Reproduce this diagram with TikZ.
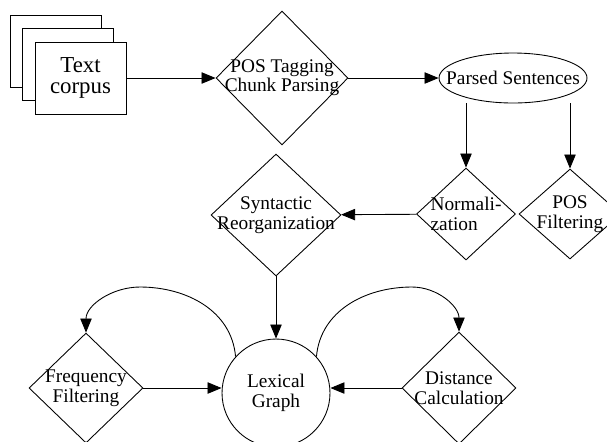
\documentclass[tikz,border=0pt]{standalone}
\usepackage{fontspec}
\setmainfont{Liberation Serif}
\usetikzlibrary{arrows.meta,shapes.geometric,shadows}

\begin{document}
\begin{tikzpicture}[x=0.02cm,y=-0.02cm,line width=0.5pt,
  every node/.style={font=\fontsize{11}{11.5}\selectfont},
  dia/.style={diamond,draw,inner sep=0pt},
  ins/.style={label={[align=center]center:#1}},
  ar/.style={-{Triangle[length=8pt,width=6.5pt]},line width=0.5pt}]
\useasboundingbox (0,0) rectangle (607,441);
\clip (0,0) rectangle (607,441);
\node[draw,fill=white,align=center,minimum width=1.82cm,minimum height=1.44cm,
  font=\fontsize{13}{12}\selectfont,
  double copy shadow={shadow xshift=-0.25cm,shadow yshift=0.27cm}] (corp) at (80.5,78) {Text\\corpus};
\node[dia,minimum width=2.64cm,minimum height=2.68cm,
  label={[align=center,font=\fontsize{11}{10}\selectfont]center:POS Tagging\\Chunk Parsing}] (pos) at (282,78) {};
\node[ellipse,draw,inner sep=0pt,minimum width=2.96cm,minimum height=1cm,ins={Parsed Sentences}] (pars) at (513,78) {};
\node[dia,minimum width=1.98cm,minimum height=1.84cm,
  label={[align=left]center:Normali-\\zation}] (norm) at (466,214) {};
\node[dia,minimum width=2.04cm,minimum height=1.8cm,ins={POS\\Filtering}] (posf) at (570,214) {};
\node[dia,minimum width=2.6cm,minimum height=2.44cm,ins={Syntactic\\Reorganization}] (syn) at (276,215) {};
\node[circle,draw,inner sep=0pt,minimum size=2.16cm,align=center] (lex) at (276,393) {Lexical\\Graph};
\node[dia,minimum width=2.28cm,minimum height=2.2cm,ins={Frequency\\Filtering}] (freq) at (86,388) {};
\node[dia,minimum width=2.28cm,minimum height=2.24cm,ins={Distance\\Calculation}] (dist) at (459,388) {};
\coordinate (lpk) at (140,287);
\coordinate (rpk) at (412,287);
\draw[ar] (corp) -- (pos);
\draw[ar] (pos) -- (pars);
\draw[ar] (pars.south -| norm.north) -- (norm.north);
\draw[ar] (pars.south -| posf.north) -- (posf.north);
\draw[ar] (norm) -- (syn);
\draw[ar] (syn) -- (lex);
\draw[ar] (freq.east) -- (freq.east -| lex.west);
\draw[ar] (dist.west) -- (dist.west -| lex.east);
\draw[ar] (lex.138) to[out=95,in=0] (lpk) to[out=180,in=90] (freq.north);
\draw[ar] (lex.42) to[out=85,in=180] (rpk) to[out=0,in=90] (dist.north);
\end{tikzpicture}
\end{document}
